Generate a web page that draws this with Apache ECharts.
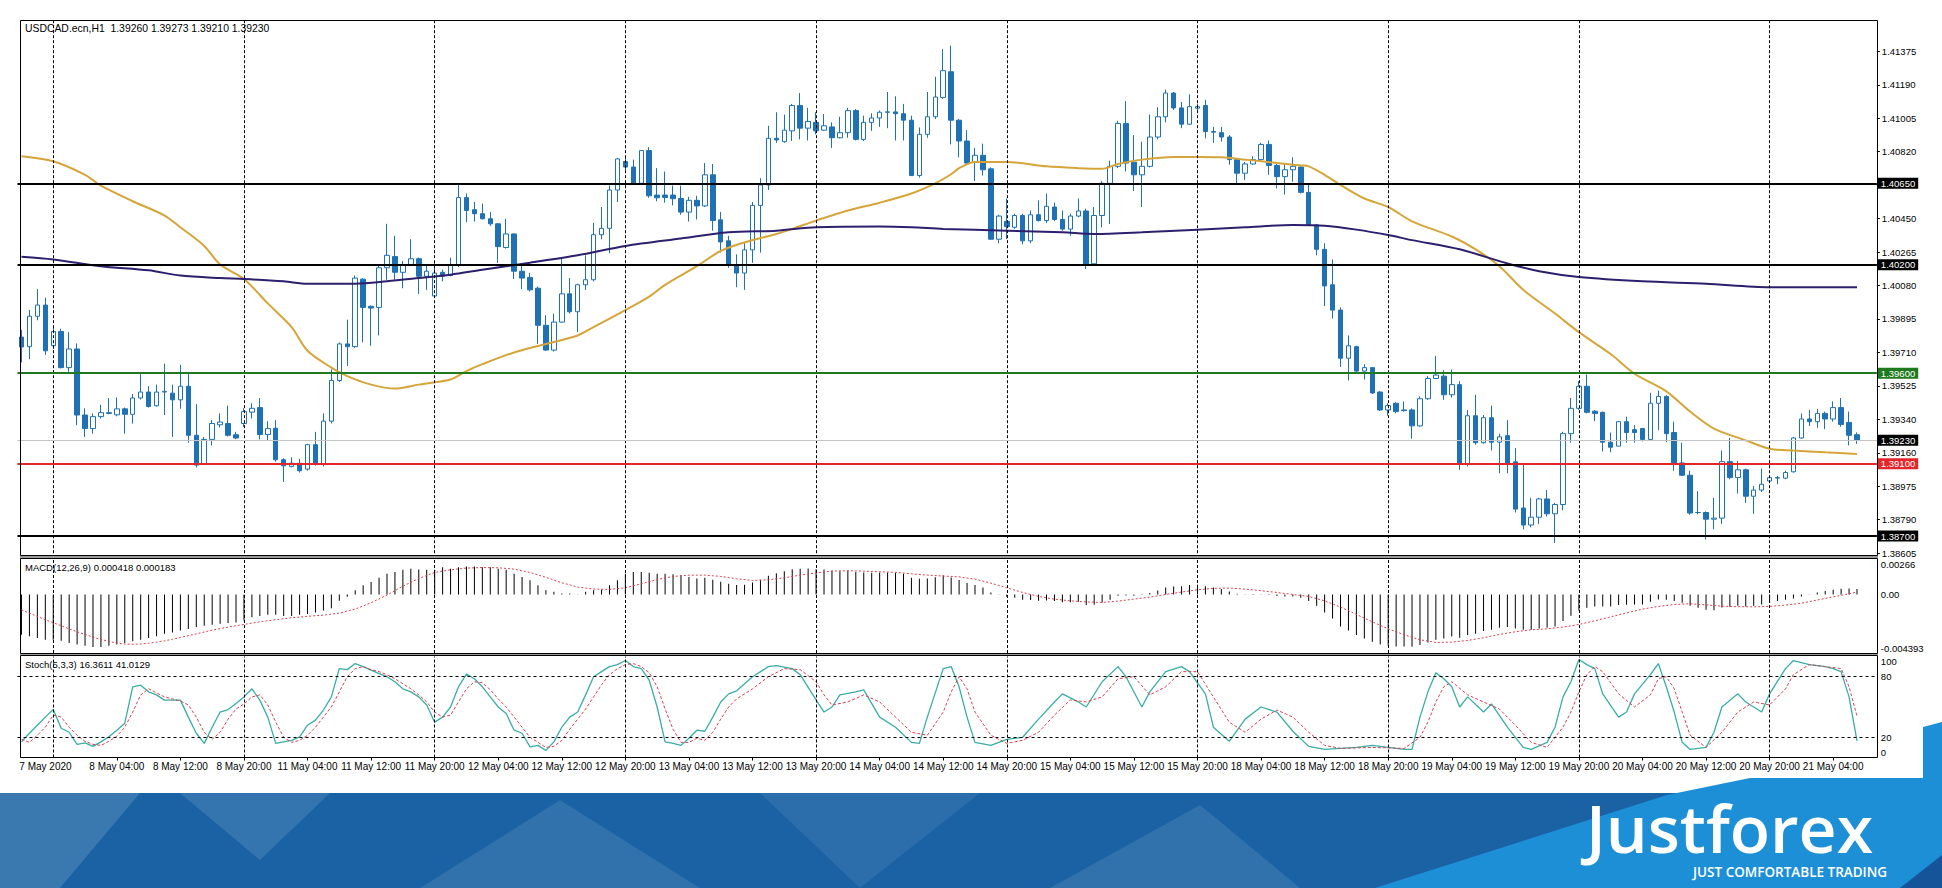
<!DOCTYPE html>
<html><head><meta charset="utf-8">
<script src="https://cdn.jsdelivr.net/npm/echarts@6/dist/echarts.min.js"></script>
<style>html,body{margin:0;padding:0;background:#fff}#c{width:1942px;height:888px}</style>
</head><body><div id="c"></div>
<script>
// ---------- DATA ----------
const days = [['7 May',16,23],['8 May',0,23],['11 May',0,23],['12 May',0,23],['13 May',0,23],['14 May',0,23],['15 May',0,23],['18 May',0,23],['19 May',0,23],['20 May',0,23],['21 May',0,7]];
const open = [1.39800,1.39747,1.39915,1.39977,1.39752,1.39831,1.39631,1.39734,1.39369,1.39294,1.39360,1.39382,1.39370,1.39403,1.39373,1.39463,1.39496,1.39420,1.39496,1.39490,1.39453,1.39528,1.39257,1.39098,1.39234,1.39315,1.39322,1.39260,1.39322,1.39385,1.39410,1.39261,1.39296,1.39122,1.39085,1.39102,1.39070,1.39205,1.39098,1.39335,1.39560,1.39762,1.39747,1.40120,1.39970,1.39964,1.40183,1.40245,1.40158,1.40196,1.40233,1.40136,1.40027,1.40158,1.40140,1.40196,1.40571,1.40504,1.40482,1.40454,1.40426,1.40295,1.40370,1.40164,1.40130,1.40070,1.39865,1.39728,1.39883,1.40039,1.39940,1.40089,1.40117,1.40366,1.40401,1.40613,1.40770,1.40740,1.40650,1.40831,1.40585,1.40585,1.40585,1.40566,1.40491,1.40556,1.40525,1.40697,1.40448,1.40332,1.40196,1.40154,1.40282,1.40528,1.40641,1.40899,1.40880,1.40940,1.41080,1.40955,1.40987,1.40944,1.40962,1.40902,1.40930,1.41052,1.40893,1.40987,1.41011,1.41043,1.41045,1.41035,1.40999,1.40693,1.40921,1.41018,1.41125,1.41267,1.40999,1.40884,1.40765,1.40805,1.40730,1.40341,1.40440,1.40407,1.40472,1.40332,1.40476,1.40444,1.40519,1.40450,1.40397,1.40469,1.40497,1.40205,1.40472,1.40650,1.40744,1.40981,1.40767,1.40697,1.40744,1.40906,1.41018,1.41149,1.41067,1.40977,1.41065,1.41080,1.40936,1.40930,1.40906,1.40781,1.40706,1.40757,1.40781,1.40865,1.40749,1.40687,1.40725,1.40740,1.40600,1.40420,1.40285,1.40089,1.39949,1.39683,1.39747,1.39612,1.39631,1.39496,1.39397,1.39434,1.39397,1.39397,1.39309,1.39459,1.39571,1.39584,1.39481,1.39537,1.39098,1.39365,1.39216,1.39354,1.39219,1.39255,1.39110,1.38855,1.38761,1.38804,1.38905,1.38823,1.38874,1.39266,1.39406,1.39528,1.39390,1.39384,1.39219,1.39197,1.39332,1.39288,1.39294,1.39234,1.39434,1.39472,1.39272,1.39104,1.39036,1.38830,1.38830,1.38793,1.38799,1.39111,1.39023,1.39066,1.38920,1.38954,1.39004,1.39020,1.39020,1.39055,1.39242,1.39347,1.39332,1.39378,1.39347,1.39410,1.39328,1.39260];
const high = [1.39840,1.39949,1.40065,1.40018,1.39855,1.39846,1.39827,1.39765,1.39406,1.39378,1.39425,1.39463,1.39466,1.39410,1.39485,1.39597,1.39528,1.39537,1.39653,1.39537,1.39646,1.39597,1.39429,1.39248,1.39341,1.39378,1.39421,1.39276,1.39406,1.39434,1.39463,1.39335,1.39341,1.39130,1.39135,1.39126,1.39210,1.39276,1.39378,1.39621,1.39770,1.39896,1.40140,1.40126,1.39975,1.40201,1.40426,1.40360,1.40220,1.40341,1.40240,1.40201,1.40210,1.40173,1.40239,1.40650,1.40594,1.40547,1.40538,1.40491,1.40430,1.40454,1.40373,1.40201,1.40155,1.40080,1.39921,1.39930,1.40233,1.40126,1.40095,1.40252,1.40431,1.40519,1.40637,1.40790,1.40790,1.40781,1.40833,1.40850,1.40734,1.40715,1.40637,1.40637,1.40575,1.40581,1.40762,1.40757,1.40491,1.40360,1.40257,1.40319,1.40547,1.40678,1.40968,1.41043,1.41030,1.41089,1.41149,1.41067,1.41043,1.41033,1.40987,1.41018,1.41067,1.41061,1.41024,1.41037,1.41052,1.41155,1.41131,1.41089,1.41024,1.40959,1.41155,1.41239,1.41392,1.41411,1.41005,1.40944,1.40846,1.40869,1.40738,1.40476,1.40566,1.40482,1.40482,1.40500,1.40556,1.40594,1.40543,1.40500,1.40482,1.40566,1.40510,1.40519,1.40663,1.40775,1.40996,1.41104,1.40917,1.40880,1.41030,1.41071,1.41168,1.41155,1.41099,1.41142,1.41089,1.41112,1.40962,1.40962,1.40917,1.40790,1.40768,1.40800,1.40874,1.40887,1.40762,1.40762,1.40794,1.40744,1.40650,1.40426,1.40319,1.40229,1.39964,1.39809,1.39752,1.39650,1.39635,1.39500,1.39434,1.39440,1.39444,1.39406,1.39472,1.39584,1.39696,1.39616,1.39621,1.39556,1.39397,1.39481,1.39369,1.39421,1.39266,1.39341,1.39186,1.39098,1.38911,1.38911,1.38954,1.38883,1.39276,1.39463,1.39556,1.39593,1.39397,1.39388,1.39272,1.39335,1.39360,1.39313,1.39298,1.39491,1.39504,1.39478,1.39332,1.39216,1.39061,1.38948,1.38836,1.38911,1.39173,1.39242,1.39116,1.39073,1.38976,1.39073,1.39032,1.39032,1.39061,1.39248,1.39378,1.39397,1.39403,1.39388,1.39444,1.39463,1.39388,1.39273];
const low = [1.39660,1.39678,1.39893,1.39702,1.39734,1.39627,1.39608,1.39313,1.39248,1.39266,1.39350,1.39373,1.39362,1.39266,1.39322,1.39455,1.39410,1.39416,1.39369,1.39248,1.39403,1.39216,1.39079,1.39092,1.39201,1.39300,1.39250,1.39235,1.39303,1.39350,1.39234,1.39229,1.39111,1.38999,1.39079,1.39051,1.39061,1.39089,1.39085,1.39322,1.39551,1.39640,1.39740,1.39771,1.39752,1.39809,1.40117,1.40117,1.40070,1.40192,1.40039,1.40061,1.40023,1.40108,1.40136,1.40187,1.40435,1.40439,1.40450,1.40415,1.40210,1.40289,1.40121,1.40065,1.40052,1.39762,1.39724,1.39720,1.39880,1.39930,1.39827,1.40061,1.40108,1.40341,1.40263,1.40547,1.40720,1.40645,1.40645,1.40570,1.40551,1.40543,1.40528,1.40476,1.40439,1.40450,1.40519,1.40388,1.40267,1.40183,1.40076,1.40061,1.40210,1.40267,1.40613,1.40874,1.40874,1.40884,1.40893,1.40887,1.40921,1.40940,1.40846,1.40899,1.40902,1.40887,1.40884,1.40940,1.40962,1.40955,1.40887,1.40887,1.40690,1.40682,1.40902,1.41005,1.41117,1.40865,1.40794,1.40753,1.40663,1.40693,1.40338,1.40319,1.40341,1.40398,1.40313,1.40319,1.40439,1.40431,1.40442,1.40388,1.40360,1.40463,1.40177,1.40200,1.40407,1.40425,1.40734,1.40715,1.40607,1.40519,1.40738,1.40893,1.40987,1.41056,1.40955,1.40974,1.41052,1.40899,1.40874,1.40880,1.40753,1.40650,1.40669,1.40753,1.40775,1.40697,1.40622,1.40588,1.40659,1.40594,1.40416,1.40252,1.39971,1.39902,1.39635,1.39560,1.39608,1.39565,1.39485,1.39391,1.39365,1.39378,1.39388,1.39238,1.39304,1.39453,1.39571,1.39453,1.39466,1.39066,1.39085,1.39205,1.39210,1.39173,1.39047,1.39047,1.38830,1.38737,1.38748,1.38767,1.38808,1.38662,1.38842,1.39216,1.39397,1.39378,1.39335,1.39167,1.39163,1.39197,1.39216,1.39216,1.39223,1.39229,1.39285,1.39219,1.39061,1.39032,1.38817,1.38820,1.38681,1.38737,1.38767,1.39014,1.38935,1.38883,1.38823,1.38944,1.38995,1.38986,1.39014,1.39051,1.39238,1.39309,1.39298,1.39291,1.39332,1.39304,1.39201,1.39210];
const close = [1.39745,1.39915,1.39977,1.39724,1.39831,1.39631,1.39734,1.39369,1.39294,1.39360,1.39382,1.39378,1.39403,1.39373,1.39463,1.39496,1.39416,1.39496,1.39500,1.39453,1.39528,1.39257,1.39092,1.39234,1.39322,1.39330,1.39257,1.39242,1.39388,1.39406,1.39261,1.39294,1.39122,1.39088,1.39103,1.39061,1.39205,1.39098,1.39335,1.39560,1.39762,1.39747,1.40126,1.39964,1.39960,1.40183,1.40252,1.40158,1.40196,1.40233,1.40136,1.40164,1.40154,1.40136,1.40201,1.40571,1.40500,1.40482,1.40454,1.40426,1.40300,1.40370,1.40164,1.40126,1.40061,1.39865,1.39728,1.39883,1.40039,1.39940,1.40089,1.40117,1.40366,1.40401,1.40613,1.40785,1.40740,1.40650,1.40831,1.40581,1.40570,1.40572,1.40565,1.40491,1.40556,1.40525,1.40697,1.40444,1.40326,1.40196,1.40154,1.40282,1.40528,1.40641,1.40899,1.40890,1.40944,1.41080,1.40955,1.40992,1.40940,1.40968,1.40902,1.40930,1.41052,1.40893,1.40987,1.41011,1.41043,1.41045,1.41035,1.40999,1.40693,1.40921,1.41018,1.41127,1.41273,1.40999,1.40884,1.40762,1.40805,1.40725,1.40341,1.40469,1.40410,1.40472,1.40332,1.40476,1.40444,1.40523,1.40450,1.40397,1.40469,1.40497,1.40201,1.40472,1.40650,1.40744,1.40981,1.40762,1.40697,1.40744,1.40906,1.41018,1.41149,1.41067,1.40977,1.41074,1.41074,1.40936,1.40933,1.40906,1.40781,1.40706,1.40757,1.40781,1.40865,1.40749,1.40687,1.40725,1.40744,1.40600,1.40420,1.40285,1.40083,1.39949,1.39683,1.39752,1.39612,1.39631,1.39491,1.39397,1.39421,1.39388,1.39393,1.39309,1.39459,1.39571,1.39590,1.39481,1.39537,1.39098,1.39365,1.39216,1.39354,1.39219,1.39248,1.39104,1.38849,1.38761,1.38804,1.38905,1.38823,1.38874,1.39266,1.39406,1.39528,1.39384,1.39378,1.39219,1.39191,1.39332,1.39272,1.39272,1.39234,1.39434,1.39472,1.39266,1.39104,1.39036,1.38827,1.38830,1.38793,1.38799,1.39111,1.39023,1.39066,1.38920,1.38954,1.38986,1.39023,1.39023,1.39051,1.39242,1.39347,1.39332,1.39378,1.39347,1.39410,1.39317,1.39257,1.39230];
// moving averages, read at sampled bars: [barIndex, value]
const ma50 = [[0,1.40800],[4,1.40772],[8,1.40697],[10,1.40637],[14,1.40551],[18,1.40472],[20,1.40407],[23,1.40304],[25,1.40201],[28,1.40121],[31,1.39986],[34,1.39855],[36,1.39724],[39,1.39631],[41,1.39584],[44,1.39537],[47,1.39515],[50,1.39537],[52,1.39550],[54,1.39565],[56,1.39612],[58,1.39650],[62,1.39715],[66,1.39762],[70,1.39809],[72,1.39855],[76,1.39949],[79,1.40024],[81,1.40089],[85,1.40192],[88,1.40276],[91,1.40323],[95,1.40370],[97,1.40398],[100,1.40444],[104,1.40500],[108,1.40543],[112,1.40594],[115,1.40650],[117,1.40700],[118,1.40734],[120,1.40768],[124,1.40768],[129,1.40744],[133,1.40734],[136,1.40730],[138,1.40757],[141,1.40781],[145,1.40796],[148,1.40796],[151,1.40794],[154,1.40781],[158,1.40762],[161,1.40749],[162,1.40744],[164,1.40697],[166,1.40641],[169,1.40566],[172,1.40519],[175,1.40440],[180,1.40356],[183,1.40285],[186,1.40192],[189,1.40061],[193,1.39930],[196,1.39827],[200,1.39706],[203,1.39597],[207,1.39500],[210,1.39388],[213,1.39294],[217,1.39229],[220,1.39182],[223,1.39173],[227,1.39163],[231,1.39154]];
const ma200 = [[0,1.40244],[4,1.40229],[10,1.40192],[16,1.40169],[20,1.40140],[25,1.40126],[28,1.40121],[33,1.40108],[36,1.40095],[42,1.40095],[46,1.40108],[50,1.40126],[54,1.40145],[58,1.40172],[64,1.40211],[70,1.40252],[76,1.40304],[83,1.40345],[89,1.40379],[95,1.40388],[100,1.40407],[108,1.40411],[112,1.40407],[116,1.40398],[124,1.40388],[131,1.40379],[135,1.40370],[141,1.40379],[148,1.40394],[154,1.40407],[160,1.40420],[164,1.40416],[168,1.40394],[172,1.40364],[175,1.40336],[181,1.40285],[187,1.40207],[191,1.40164],[196,1.40132],[204,1.40108],[212,1.40095],[220,1.40076],[231,1.40076]];
const macdHist = [-0.00302,-0.00314,-0.00327,-0.00339,-0.00339,-0.00347,-0.00364,-0.00376,-0.00384,-0.00394,-0.00394,-0.00384,-0.00376,-0.00364,-0.00351,-0.00339,-0.00327,-0.00314,-0.00295,-0.00285,-0.00270,-0.00260,-0.00245,-0.00235,-0.00228,-0.00220,-0.00215,-0.00210,-0.00195,-0.00171,-0.00161,-0.00153,-0.00153,-0.00161,-0.00161,-0.00153,-0.00146,-0.00136,-0.00121,-0.00104,-0.00047,-0.00017,0.00032,0.00069,0.00094,0.00126,0.00156,0.00168,0.00186,0.00193,0.00188,0.00186,0.00186,0.00205,0.00193,0.00205,0.00210,0.00210,0.00205,0.00205,0.00193,0.00186,0.00156,0.00131,0.00106,0.00069,0.00032,0.00020,0.00007,0.00007,0.00002,0.00020,0.00032,0.00037,0.00069,0.00106,0.00156,0.00168,0.00168,0.00163,0.00156,0.00156,0.00151,0.00144,0.00131,0.00119,0.00125,0.00110,0.00095,0.00080,0.00070,0.00072,0.00090,0.00110,0.00140,0.00160,0.00175,0.00190,0.00192,0.00195,0.00190,0.00188,0.00180,0.00175,0.00178,0.00168,0.00165,0.00163,0.00165,0.00165,0.00162,0.00155,0.00125,0.00118,0.00120,0.00130,0.00145,0.00128,0.00108,0.00085,0.00070,0.00052,0.00015,-0.00002,-0.00018,-0.00025,-0.00040,-0.00042,-0.00048,-0.00045,-0.00050,-0.00058,-0.00058,-0.00055,-0.00080,-0.00078,-0.00060,-0.00040,-0.00010,-0.00008,-0.00010,-0.00005,0.00010,0.00030,0.00052,0.00060,0.00062,0.00070,0.00072,0.00062,0.00052,0.00040,0.00022,0.00005,-0.00002,-0.00004,0.00002,-0.00005,-0.00012,-0.00015,-0.00015,-0.00025,-0.00050,-0.00085,-0.00135,-0.00180,-0.00240,-0.00270,-0.00305,-0.00330,-0.00355,-0.00375,-0.00385,-0.00390,-0.00390,-0.00392,-0.00380,-0.00360,-0.00340,-0.00330,-0.00315,-0.00325,-0.00305,-0.00295,-0.00275,-0.00265,-0.00250,-0.00245,-0.00255,-0.00265,-0.00265,-0.00255,-0.00250,-0.00240,-0.00200,-0.00160,-0.00120,-0.00100,-0.00090,-0.00090,-0.00090,-0.00080,-0.00078,-0.00076,-0.00075,-0.00055,-0.00038,-0.00040,-0.00050,-0.00062,-0.00085,-0.00100,-0.00115,-0.00118,-0.00098,-0.00092,-0.00085,-0.00090,-0.00085,-0.00075,-0.00060,-0.00050,-0.00040,-0.00030,-0.00015,0.00002,0.00015,0.00025,0.00035,0.00042,0.00045,0.000418];
const macdSignal = [[0,-0.00116],[1,-0.00140],[2,-0.00165],[3,-0.00190],[4,-0.00212],[5,-0.00235],[6,-0.00258],[7,-0.00280],[8,-0.00300],[9,-0.00320],[10,-0.00338],[11,-0.00352],[12,-0.00365],[13,-0.00372],[14,-0.00374],[15,-0.00372],[16,-0.00366],[17,-0.00358],[18,-0.00348],[19,-0.00336],[20,-0.00322],[22,-0.00296],[24,-0.00268],[26,-0.00245],[28,-0.00225],[30,-0.00205],[32,-0.00190],[34,-0.00175],[36,-0.00164],[38,-0.00155],[40,-0.00140],[42,-0.00110],[44,-0.00062],[46,-0.00005],[48,0.00062],[50,0.00120],[52,0.00165],[54,0.00185],[56,0.00198],[58,0.00202],[60,0.00200],[62,0.00190],[64,0.00165],[66,0.00128],[68,0.00088],[70,0.00056],[72,0.00040],[74,0.00038],[76,0.00050],[78,0.00080],[80,0.00112],[82,0.00135],[84,0.00145],[86,0.00145],[88,0.00135],[90,0.00118],[92,0.00105],[94,0.00110],[96,0.00125],[98,0.00145],[100,0.00162],[102,0.00175],[104,0.00178],[106,0.00175],[108,0.00170],[110,0.00166],[112,0.00155],[114,0.00145],[116,0.00138],[118,0.00132],[120,0.00115],[122,0.00085],[124,0.00050],[126,0.00015],[128,-0.00015],[130,-0.00035],[132,-0.00048],[134,-0.00056],[136,-0.00060],[138,-0.00050],[140,-0.00035],[142,-0.00020],[144,0.00000],[146,0.00018],[148,0.00035],[150,0.00046],[152,0.00048],[154,0.00040],[156,0.00028],[158,0.00015],[160,0.00000],[162,-0.00015],[164,-0.00048],[166,-0.00095],[168,-0.00150],[170,-0.00205],[172,-0.00258],[174,-0.00302],[176,-0.00340],[178,-0.00360],[180,-0.00358],[182,-0.00345],[184,-0.00325],[186,-0.00300],[188,-0.00280],[190,-0.00265],[192,-0.00258],[194,-0.00245],[196,-0.00225],[198,-0.00198],[200,-0.00168],[202,-0.00138],[204,-0.00110],[206,-0.00090],[208,-0.00075],[210,-0.00070],[212,-0.00078],[214,-0.00088],[216,-0.00092],[218,-0.00093],[220,-0.00090],[222,-0.00080],[224,-0.00066],[226,-0.00042],[228,-0.00018],[230,0.00005],[231,0.000183]];
const stochMain = [[0,15.5],[1,24],[2,32],[3,40],[4,47.5],[5,29],[6,25],[7,13],[8,14.5],[9,11],[10,15.5],[11,20.5],[12,27],[13,34],[14,70],[15,71.6],[16,65],[17,62],[18,56.8],[19,56.8],[20,56.8],[21,40],[22,24],[23,14],[24,30],[25,45],[26,47.5],[27,53.5],[28,60],[29,68],[30,56.8],[31,40],[32,14],[33,15.5],[34,17],[35,20.5],[36,32],[37,37],[38,47],[39,60],[40,88],[41,87],[42,93],[43,90],[44,86.5],[45,83],[46,80],[47,75],[48,68],[49,65],[50,60],[51,52],[52,35],[53,40],[54,50],[55,70],[56,82.5],[57,78],[58,70],[59,60],[60,50],[61,43.5],[62,27],[63,24],[64,10.5],[65,12],[66,7],[67,15.5],[68,30],[69,40],[70,45],[71,62],[72,80],[73,85],[74,90],[75,92],[76,96],[77,90],[78,88],[79,76.5],[80,50],[81,15.5],[82,14],[83,12],[84,19],[85,27],[86,26],[87,40],[88,55],[89,63],[90,66],[92,80],[94,90],[95,91],[97,88],[98,82],[100,57],[101,45],[102,50],[103,62],[105,65],[106,67],[108,40],[110,30],[112,15],[113,14],[114,40],[116,88],[117,90],[118,70],[119,40],[120,15],[122,12],[124,18],[126,20],[128,38],[130,55],[131,63],[133,55],[134,50],[136,75],[138,90],[139,80],[141,50],[142,65],[144,85],[146,90],[147,85],[149,63],[150,30],[152,16],[154,38],[156,50],[158,45],[160,26],[162,11],[164,8],[166,9],[168,10],[170,12],[172,10],[174,8],[175,8],[176,40],[177,65],[178,84],[179,78],[180,70],[181,50],[182,60],[184,45],[185,53],[187,30],[189,10],[190,8],[192,15],[193,30],[194,60],[195,75],[196,97],[197,92],[198,88],[199,63],[201,40],[202,45],[203,63],[205,82],[206,93],[207,70],[208,45],[209,15],[210,8],[212,10],[213,25],[214,50],[216,63],[217,55],[219,45],[220,63],[222,88],[223,96],[225,92],[227,90],[228,88],[229,85],[230,60],[231,16.36]];
const stochSignal = [[0,18],[1,15],[2,22],[3,30],[4,42],[5,40],[6,30],[7,22],[8,16],[9,13],[10,12],[11,16],[12,21],[13,30],[14,45],[15,62],[16,68],[17,64],[18,60],[19,58],[20,56],[21,52],[22,40],[23,25],[24,18],[25,25],[26,38],[27,48],[28,53],[29,60],[30,62],[31,52],[32,35],[33,20],[34,15],[35,17],[36,22],[37,30],[38,40],[39,50],[40,65],[41,80],[42,88],[43,90],[44,87],[45,85],[46,82],[47,78],[48,73],[49,68],[50,62],[51,55],[52,45],[53,40],[54,42],[55,55],[56,68],[57,75],[58,74],[59,67],[60,58],[61,50],[62,40],[63,30],[64,20],[65,15],[66,10],[67,11],[68,17],[69,28],[70,38],[71,48],[72,60],[73,72],[74,82],[75,88],[76,92],[77,93],[78,90],[79,84],[80,70],[81,48],[82,28],[83,15],[84,15],[85,19],[86,17],[87,25],[88,38],[89,50],[90,58],[92,68],[94,80],[96,88],[98,87],[100,75],[101,62],[102,52],[104,55],[106,62],[108,55],[110,40],[112,25],[114,22],[116,45],[117,65],[118,80],[119,68],[120,45],[122,22],[124,14],[126,17],[128,25],[130,42],[132,57],[134,55],[136,60],[138,78],[140,80],[142,62],[144,70],[146,85],[148,85],[150,60],[152,35],[154,25],[156,38],[158,47],[160,40],[162,25],[164,12],[166,9],[170,10],[174,9],[176,20],[177,35],[178,55],[179,70],[180,75],[182,62],[184,55],[186,48],[188,32],[190,15],[192,10],[194,30],[195,45],[196,65],[197,82],[198,90],[199,85],[201,63],[203,50],[205,62],[206,78],[207,80],[208,68],[209,45],[210,22],[212,10],[214,25],[216,45],[218,55],[220,52],[222,68],[223,82],[225,92],[227,90],[229,88],[230,70],[231,41.01]];
const priceTicks = ['1.38605','1.38790','1.38975','1.39160','1.39340','1.39525','1.39710','1.39895','1.40080','1.40265','1.40450','','1.40820','1.41005','1.41190','1.41375'];
const levels = [1.40650, 1.40200, 1.39600, 1.39230, 1.39100, 1.38700];
const levelLabels = ['1.40650','1.40200','1.39600','1.39230','1.39100','1.38700'];
const levelLineColors = ['#000000','#000000','#1f7a1f','#c4c4c4','#e3262b','#000000'];
const levelBoxColors = ['#000000','#000000','#1f7a1f','#000000','#e3262b','#000000'];
const timeLabels = ['7 May 2020','8 May 04:00','8 May 12:00','8 May 20:00','11 May 04:00','11 May 12:00','11 May 20:00','12 May 04:00','12 May 12:00','12 May 20:00','13 May 04:00','13 May 12:00','13 May 20:00','14 May 04:00','14 May 12:00','14 May 20:00','15 May 04:00','15 May 12:00','15 May 20:00','18 May 04:00','18 May 12:00','18 May 20:00','19 May 04:00','19 May 12:00','19 May 20:00','20 May 04:00','20 May 12:00','20 May 20:00','21 May 04:00'];
const gridTimes = ['7 May 20:00','8 May 20:00','11 May 20:00','12 May 20:00','13 May 20:00','14 May 20:00','15 May 20:00','18 May 20:00','19 May 20:00','20 May 20:00'];
const macdTicks = ['-0.004393','0.00','0.00266'];
const stochTicks = {0:'0',20:'20',80:'80',100:'100'};
const titleText = 'USDCAD.ecn,H1  1.39260 1.39273 1.39210 1.39230';
const macdText = 'MACD(12,26,9) 0.000418 0.000183';
const stochText = 'Stoch(5,3,3) 16.3611 41.0129';

// ---------- BUILD ----------
const categories = [];
days.forEach(([d,a,b]) => { for (let h=a; h<=b; h++) categories.push(d+' '+String(h).padStart(2,'0')+':00'); });
categories.push('', ' ');
const candles = open.map((o,i) => [o, close[i], low[i], high[i]]);
const labelSet = new Set(timeLabels.slice(1));
const FONT = "'Liberation Sans',Arial,sans-serif";
const BLUE = '#1f71b3';
const GL = 17.5, GW = 234*7.946;

const xAxisBase = (gi, show) => ({
  type:'category', gridIndex:gi, data:categories, boundaryGap:true,
  axisLine:{show:false}, splitLine:{show:false},
  axisTick: show ? {show:true, alignWithLabel:true, length:3, lineStyle:{color:'#000'}, interval:(i,n)=>labelSet.has(n)} : {show:false},
  axisLabel: show ? {
    show:true, fontFamily:FONT, fontSize:10, color:'#000', margin:4,
    showMinLabel:true, showMaxLabel:true, hideOverlap:false,
    interval:(i,n)=> i===0 || labelSet.has(n),
    formatter:(n,i)=> i===0 ? '{f|'+timeLabels[0]+'}' : n,
    rich:{f:{fontFamily:FONT, fontSize:10, color:'#000', padding:[0,0,0,48]}}
  } : {show:false}
});
const vlines = (gi) => ({
  type:'line', xAxisIndex:gi, yAxisIndex:gi, data:[], z:1, silent:true,
  markLine:{symbol:'none', silent:true, animation:false, label:{show:false},
    lineStyle:{color:'#000', type:[3,2], width:1},
    data: gridTimes.map(t => ({xAxis:t}))}
});

const option = {
  animation:false,
  grid:[
    {left:GL, top:20, width:GW, height:533.2},
    {left:GL, top:559, width:GW, height:94},
    {left:GL, top:656.5, width:GW, height:101}
  ],
  xAxis:[xAxisBase(0,false), xAxisBase(1,false), xAxisBase(2,true)],
  yAxis:[
    {type:'value', gridIndex:0, position:'right', min:1.38605, max:1.41553, interval:0.00185, scale:true,
     axisLine:{show:false}, splitLine:{show:false},
     axisTick:{show:true, length:3, lineStyle:{color:'#000'}},
     axisLabel:{fontFamily:FONT, fontSize:9.5, color:'#000', margin:5, showMaxLabel:false,
       formatter:(v,i)=> priceTicks[i] || ''}},
    {type:'value', gridIndex:1, position:'right', min:-0.004393, max:0.00266, interval:0.004393,
     axisLine:{show:false}, splitLine:{show:false}, axisTick:{show:false},
     axisLabel:{fontFamily:FONT, fontSize:9.5, color:'#000', margin:4,
       verticalAlignMaxLabel:'top', verticalAlignMinLabel:'bottom',
       formatter:(v,i)=> macdTicks[i] || ''}},
    {type:'value', gridIndex:2, position:'right', min:0, max:100, interval:20,
     axisLine:{show:false}, splitLine:{show:false}, axisTick:{show:false},
     axisLabel:{fontFamily:FONT, fontSize:9.5, color:'#000', margin:4,
       verticalAlignMaxLabel:'top', verticalAlignMinLabel:'bottom',
       formatter:(v)=> stochTicks[Math.round(v)] || ''}}
  ],
  series:[
    vlines(0), vlines(1), vlines(2),
    {type:'candlestick', xAxisIndex:0, yAxisIndex:0, data:candles, barWidth:5, z:3,
     itemStyle:{color:'#ffffff', color0:BLUE, borderColor:BLUE, borderColor0:BLUE, borderWidth:1}},
    {type:'line', xAxisIndex:0, yAxisIndex:0, data:ma50, symbol:'none', z:4, smooth:0.3,
     lineStyle:{color:'#d5a53a', width:2}},
    {type:'line', xAxisIndex:0, yAxisIndex:0, data:ma200, symbol:'none', z:4, smooth:0.3,
     lineStyle:{color:'#2d1f6e', width:2},
     markLine:{symbol:'none', silent:true, animation:false, precision:5,
       data: levels.map((v,k)=>({yAxis:v,
         lineStyle:{color:levelLineColors[k], width: k===3 ? 1 : 2, type:'solid'},
         label:{show:true, position:'end', distance:1, formatter:levelLabels[k], color:'#fff',
           backgroundColor:levelBoxColors[k], padding:[1,3,0,3], fontFamily:FONT, fontSize:9.5}}))}},
    {type:'bar', xAxisIndex:1, yAxisIndex:1, data:macdHist, barWidth:1, z:3,
     itemStyle:{color:'#000'}},
    {type:'line', xAxisIndex:1, yAxisIndex:1, data:macdSignal, symbol:'none', z:4,
     lineStyle:{color:'#d8414f', width:1, type:[2,2]}},
    {type:'line', xAxisIndex:2, yAxisIndex:2, data:stochMain, symbol:'none', z:4,
     lineStyle:{color:'#3aaea4', width:1.3}},
    {type:'line', xAxisIndex:2, yAxisIndex:2, data:stochSignal, symbol:'none', z:4,
     lineStyle:{color:'#d8414f', width:1, type:[3,2]},
     markLine:{symbol:'none', silent:true, animation:false, precision:2, label:{show:false},
       lineStyle:{color:'#000', type:[3,3], width:1}, data:[{yAxis:80},{yAxis:20}]}}
  ],
  graphic:{elements:[
    {type:'rect', shape:{x:20.5,y:20.5,width:1857,height:535}, style:{fill:'none',stroke:'#000',lineWidth:1}, z:10, silent:true},
    {type:'rect', shape:{x:20.5,y:558.5,width:1857,height:95}, style:{fill:'none',stroke:'#000',lineWidth:1}, z:10, silent:true},
    {type:'rect', shape:{x:20.5,y:655.5,width:1857,height:102}, style:{fill:'none',stroke:'#000',lineWidth:1}, z:10, silent:true},
    {type:'rect', shape:{x:20,y:556,width:1858,height:2}, style:{fill:'#9a9a9a'}, z:10, silent:true},
    {type:'rect', shape:{x:20,y:654,width:1858,height:1}, style:{fill:'#9a9a9a'}, z:10, silent:true},
    {type:'text', left:25, top:23, style:{text:titleText, font:"10.4px "+FONT, fill:'#000'}, z:11},
    {type:'text', left:25, top:562, style:{text:macdText, font:"9.5px "+FONT, fill:'#000'}, z:11},
    {type:'text', left:25, top:659, style:{text:stochText, font:"9.5px "+FONT, fill:'#000'}, z:11},
    // banner
    {type:'rect', shape:{x:0,y:793,width:1942,height:95}, style:{fill:'#1a62a4'}, z:20, silent:true},
    {type:'polygon', shape:{points:[[0,793],[140,793],[60,888],[0,888]]}, style:{fill:'rgba(255,255,255,0.14)'}, z:21, silent:true},
    {type:'polygon', shape:{points:[[180,793],[330,793],[260,860]]}, style:{fill:'rgba(255,255,255,0.12)'}, z:21, silent:true},
    {type:'polygon', shape:{points:[[420,888],[560,800],[700,888]]}, style:{fill:'rgba(255,255,255,0.10)'}, z:21, silent:true},
    {type:'polygon', shape:{points:[[760,793],[980,793],[860,888]]}, style:{fill:'rgba(255,255,255,0.08)'}, z:21, silent:true},
    {type:'polygon', shape:{points:[[1050,888],[1200,805],[1300,888]]}, style:{fill:'rgba(255,255,255,0.10)'}, z:21, silent:true},
    {type:'polygon', shape:{points:[[1375,888],[1667,795],[1750,778],[1923,778],[1923,727],[1942,722],[1942,888]]}, style:{fill:'#1d8fd6'}, z:22, silent:true},
    {type:'polygon', shape:{points:[[1900,888],[1942,855],[1942,888]]}, style:{fill:'#16549a'}, z:23, silent:true},
    {type:'text', left:1586, top:794, style:{text:'Justforex', font:"600 66px 'Open Sans',sans-serif", lineHeight:62, fill:'#fff'}, z:24},
    {type:'text', left:1693, top:864, style:{text:'JUST COMFORTABLE TRADING', font:"600 13.5px 'Open Sans',sans-serif", lineHeight:15, fill:'#fff'}, z:24}
  ]}
};
const chart = echarts.init(document.getElementById('c'), null, {renderer:'svg'});
chart.setOption(option);
</script>
</body></html>
